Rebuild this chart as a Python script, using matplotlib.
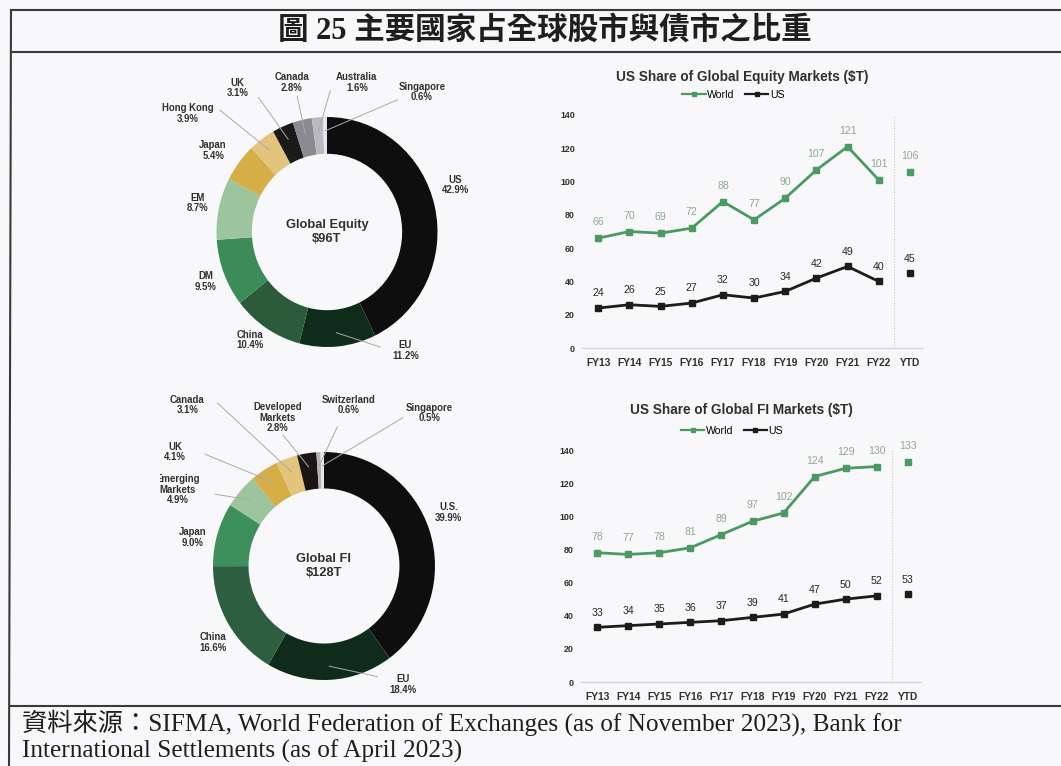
import matplotlib
matplotlib.use("Agg")
import matplotlib.pyplot as plt
from matplotlib.lines import Line2D
import numpy as np

W, H = 1061, 766
BG = "#f8f7fa"
SANS = ["Liberation Sans", "DejaVu Sans"]
SERIF_CJK = ["Liberation Serif", "Noto Sans CJK TC", "DejaVu Sans"]

# ---------------- data ----------------
equity_names = ["US", "EU", "China", "DM", "EM", "Japan", "Hong Kong",
                "UK", "Canada", "Australia", "Singapore"]
equity_shares = [42.9, 11.2, 10.4, 9.5, 8.7, 5.4, 3.9, 3.1, 2.8, 1.6, 0.6]

fi_names = ["U.S.", "EU", "China", "Japan", "Emerging\nMarkets", "UK",
            "Canada", "Developed\nMarkets", "Switzerland", "Singapore"]
fi_shares = [39.9, 18.4, 16.6, 9.0, 4.9, 4.1, 3.1, 2.8, 0.6, 0.5]

periods = ["FY13", "FY14", "FY15", "FY16", "FY17", "FY18", "FY19",
           "FY20", "FY21", "FY22", "YTD"]
equity_world = [66, 70, 69, 72, 88, 77, 90, 107, 121, 101, 106]
equity_us = [24, 26, 25, 27, 32, 30, 34, 42, 49, 40, 45]
fi_world = [78, 77, 78, 81, 89, 97, 102, 124, 129, 130, 133]
fi_us = [33, 34, 35, 36, 37, 39, 41, 47, 50, 52, 53]

# ---------------- styles ----------------
equity_colors = ["#0e0e0e", "#0f2c1b", "#2b5b3b", "#3c8b59", "#9cc59d",
                 "#d5ae47", "#e2c47c", "#1a1a1a", "#8a8a91", "#b9b9bf", "#e6e6ea"]
fi_colors = ["#0e0e0e", "#0f2c1b", "#2e5e40", "#3d8f5c", "#9cc59d",
             "#d5ae47", "#e2c47c", "#1b1613", "#b3b3b8", "#e6e6ea"]
GREEN = "#4a9a62"
GREEN_LABEL = "#8fa893"
DARK = "#1c1c1c"
TEXT = "#303030"
LEADER = "#a9a9ab"

fig = plt.figure(figsize=(W / 100, H / 100), dpi=100, facecolor=BG)


def px_axes(x0, y0, x1, y1):
    return fig.add_axes([x0 / W, 1 - y1 / H, (x1 - x0) / W, (y1 - y0) / H])


def donut(box, center, radii, names, shares, colors, label_pos, leaders, center_text):
    x0, y0, x1, y1 = box
    cx, cy = center
    rx, ry = radii
    ax = px_axes(x0, y0, x1, y1)
    wedges, _ = ax.pie(shares, colors=colors, startangle=90, counterclock=False,
                       radius=1.0, wedgeprops=dict(width=0.32, linewidth=0))
    ax.set_aspect("auto")
    ax.set_xlim((x0 - cx) / rx, (x1 - cx) / rx)
    ax.set_ylim((cy - y1) / ry, (cy - y0) / ry)
    ax.axis("off")
    for name, share, (lx, ly) in zip(names, shares, label_pos):
        ax.text(lx, ly, f"{name}\n{share:.1f}%", ha="center", va="center",
                fontsize=6.9, fontweight="bold", color=TEXT, family=SANS,
                linespacing=1.05, clip_on=True)
    for idx, (sx, sy) in leaders.items():
        w = wedges[idx]
        mid = np.deg2rad((w.theta1 + w.theta2) / 2)
        ex, ey = 0.88 * np.cos(mid), 0.88 * np.sin(mid)
        ax.plot([sx, ex], [sy, ey], color=LEADER, lw=0.7, zorder=3)
    ax.text(0, 0, center_text, ha="center", va="center", fontsize=9.3,
            fontweight="bold", color=TEXT, family=SANS, linespacing=1.2)
    return ax


# Global equity donut
donut((160, 55, 500, 385), (327, 232), (110.5, 115),
      equity_names, equity_shares, equity_colors,
      [(1.16, 0.41), (0.71, -1.03), (-0.70, -0.94), (-1.10, -0.43),
       (-1.17, 0.25), (-1.03, 0.71), (-1.26, 1.03), (-0.81, 1.25),
       (-0.32, 1.30), (0.27, 1.30), (0.86, 1.22)],
      {6: (-0.97, 1.06), 7: (-0.62, 1.17), 8: (-0.27, 1.18),
       9: (0.03, 1.23), 10: (0.64, 1.15), 1: (0.48, -1.0)},
      "Global Equity\n$96T")

# Global fixed income donut
donut((160, 385, 500, 705), (324, 566), (111, 114),
      fi_names, fi_shares, fi_colors,
      [(1.12, 0.47), (0.71, -1.04), (-1.00, -0.67), (-1.18, 0.25),
       (-1.32, 0.67), (-1.34, 1.00), (-1.23, 1.41), (-0.42, 1.30),
       (0.22, 1.41), (0.95, 1.34)],
      {6: (-0.96, 1.43), 7: (-0.37, 1.15), 8: (0.12, 1.22),
       9: (0.71, 1.30), 5: (-1.07, 0.98), 4: (-0.98, 0.63), 1: (0.48, -0.97)},
      "Global FI\n$128T")


def trend(box, title, title_y, legend_y, world, us):
    x0, y0, x1, y1 = box
    ax = px_axes(x0, y0, x1, y1)
    ax.set_facecolor("none")
    x = np.arange(len(periods))
    ax.plot(x[:-1], world[:-1], color=GREEN, lw=2, marker="s", ms=4.5, zorder=3)
    ax.plot(x[-1:], world[-1:], color=GREEN, ls="none", marker="s", ms=4.5, zorder=3)
    ax.plot(x[:-1], us[:-1], color=DARK, lw=2, marker="s", ms=4.5, zorder=3)
    ax.plot(x[-1:], us[-1:], color=DARK, ls="none", marker="s", ms=4.5, zorder=3)
    for xi, v in zip(x, world):
        ax.annotate(str(v), (xi, v), xytext=(0, 11.5), textcoords="offset points",
                    ha="center", va="center", fontsize=7.6, color=GREEN_LABEL,
                    family=SANS)
    for xi, v in zip(x, us):
        ax.annotate(str(v), (xi, v), xytext=(0, 10.5), textcoords="offset points",
                    ha="center", va="center", fontsize=7.6, color="#262626",
                    family=SANS)
    ax.axvline(9.5, color="#c9c9cc", lw=0.8, ls=(0, (1, 1.5)), zorder=1)
    ax.set_xlim(-0.52, 10.42)
    ax.set_ylim(0, 140)
    ax.set_yticks(range(0, 141, 20))
    ax.set_xticks(x)
    ax.set_xticklabels(periods)
    for s in ("top", "right", "left"):
        ax.spines[s].set_visible(False)
    ax.spines["bottom"].set_color("#d6d6d8")
    ax.spines["bottom"].set_linewidth(1.0)
    ax.tick_params(length=0, labelsize=6.4, colors=TEXT)
    ax.tick_params(axis="x", pad=7.5, labelsize=7.4)
    ax.tick_params(axis="y", pad=5)
    for t in ax.get_xticklabels() + ax.get_yticklabels():
        t.set_fontweight("bold")
        t.set_family(SANS)
    cx = (x0 + x1) / 2
    fig.text((cx - 10) / W, 1 - title_y / H, title, ha="center", va="center",
             fontsize=9.8, fontweight="bold", color=TEXT, family=SANS)
    handles = [Line2D([], [], color=GREEN, lw=1.6, marker="s", ms=3.5),
               Line2D([], [], color=DARK, lw=1.6, marker="s", ms=3.5)]
    fig.legend(handles, ["World", "US"], loc="center",
               bbox_to_anchor=((cx - 19) / W, 1 - legend_y / H), ncol=2,
               frameon=False, handlelength=2.2, handletextpad=0.15,
               columnspacing=1.0, prop=dict(family=SANS, size=7.6))
    return ax


trend((582, 115, 923, 348), "US Share of Global Equity Markets ($T)", 77, 95,
      equity_world, equity_us)
trend((581, 450, 921, 682), "US Share of Global FI Markets ($T)", 410, 431,
      fi_world, fi_us)

# Frame of the figure panel
frame = dict(color="#3a3a3a", lw=1.5, transform=fig.transFigure)
for yy in (10, 52, 706):
    fig.add_artist(Line2D([11 / W, 1.0], [1 - yy / H, 1 - yy / H], **frame))
fig.add_artist(Line2D([11 / W, 9 / W], [1 - 10 / H, 0.0], **frame))

fig.text(545 / W, 1 - 31 / H, "圖 25 主要國家占全球股市與債市之比重",
         ha="center", va="center", fontsize=22, fontweight="bold",
         color="#1e1e1e", family=SERIF_CJK)

fig.text(22 / W, 1 - 723 / H,
         "資料來源：SIFMA, World Federation of Exchanges (as of November 2023), Bank for",
         ha="left", va="center", fontsize=18.2, color="#1e1e1e", family=SERIF_CJK)
fig.text(22 / W, 1 - 751 / H, "International Settlements (as of April 2023)",
         ha="left", va="center", fontsize=18.2, color="#1e1e1e", family=SERIF_CJK)

fig.savefig("out.png", dpi=100, facecolor=BG)
